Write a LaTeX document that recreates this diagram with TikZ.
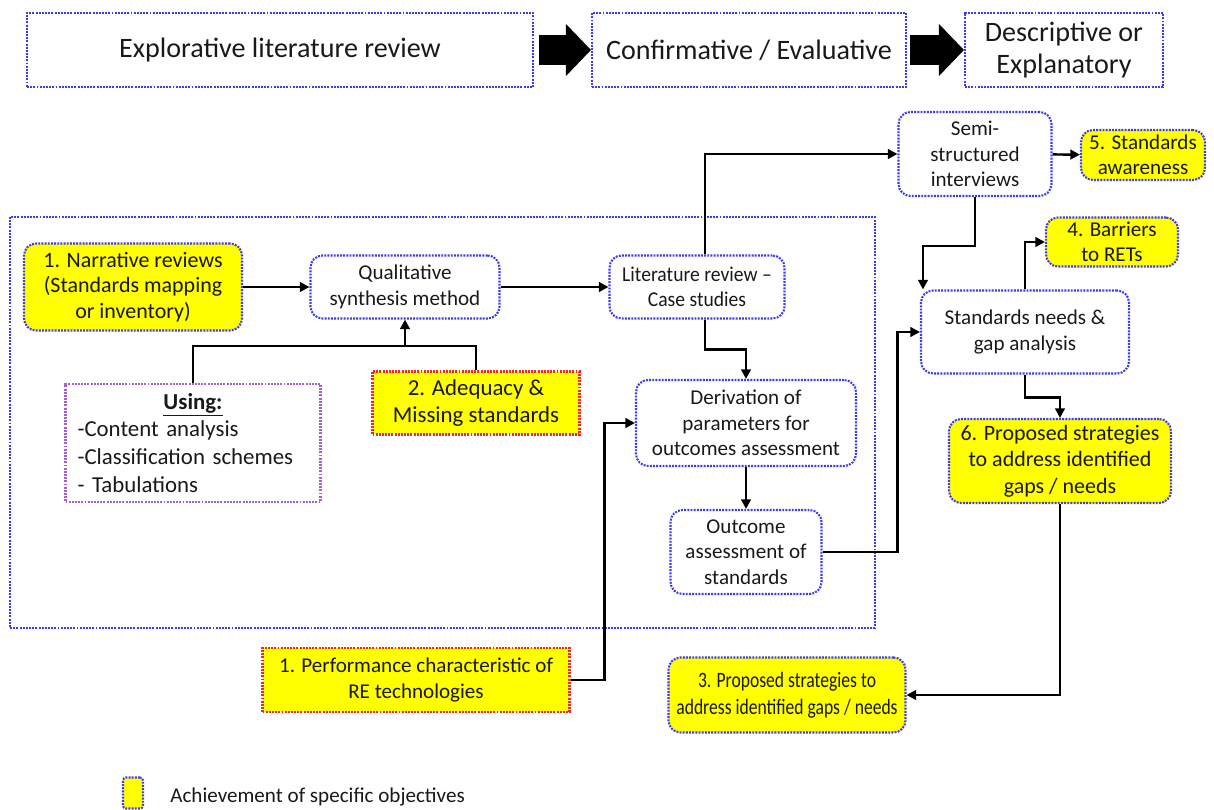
\documentclass[tikz,border=0pt]{standalone}
\usepackage{fontspec}
\setmainfont{Carlito}
\newfontfamily\narrowA{Carlito}[FakeStretch=0.8,Ligatures=TeX]
\newfontfamily\narrowB{Carlito}[FakeStretch=0.93,Ligatures=TeX]
\usepackage{tikz}
\usetikzlibrary{positioning}
\usetikzlibrary{arrows.meta}
\definecolor{dotblue}{RGB}{60,60,235}
\definecolor{dotred}{RGB}{235,40,40}
\definecolor{dotpurp}{RGB}{165,95,210}
\definecolor{ylw}{RGB}{255,255,0}
\definecolor{ink}{RGB}{25,25,25}

\begin{document}
\begin{tikzpicture}[x=0.02cm,y=-0.02cm,text=ink,
	font=\fontsize{12}{14.5}\selectfont,
	dotb/.style={draw=dotblue, line width=1.2pt, dash pattern=on 1.1pt off 0.7pt},
	topb/.style={dotb, minimum height=1.48cm, inner sep=0pt, align=center,
		font=\fontsize{16}{18.7}\selectfont},
	rnd/.style={dotb, rounded corners=0.24cm, align=center, inner sep=0pt},
	yrnd/.style={rnd, fill=ylw},
	yred/.style={draw=dotred, line width=1.2pt, dash pattern=on 1.1pt off 0.7pt,
		fill=ylw, align=center, inner sep=0pt},
	purp/.style={draw=dotpurp, line width=1.2pt, dash pattern=on 1.1pt off 0.7pt,
		align=left, inner xsep=0.24cm, inner ysep=0pt, text width=4.62cm},
	lnk/.style={line width=1.4pt, -{Triangle[length=5.5pt,width=5.5pt]}},
	lin/.style={line width=1.4pt},
	blk/.style={line width=0.6cm, -{Triangle[length=0.5cm,width=1.04cm,line width=0pt]}}]
	\useasboundingbox (0,0) rectangle (1214,810);
	% phases
	\node [topb, minimum width=10.12cm] (explore) at (280,50) {Explorative literature review};
	\node [topb, minimum width=6.28cm] (confirm) at (749,50) {Confirmative / Evaluative};
	\node [topb, minimum width=3.96cm] (descr) at (1064,50) {Descriptive or\\Explanatory};
	\draw [blk] ([xshift=0.1cm]explore.east) -- (confirm.west);
	\draw [blk] ([xshift=0.06cm]confirm.east) -- (descr.west);
	% literature part
	\draw [dotb] (10,217) rectangle (875,628);
	\node [yrnd, minimum width=4.36cm, minimum height=1.74cm,
		font=\fontsize{12.5}{14.5}\selectfont] (narr) at (133,287)
		{1. Narrative reviews\\(Standards mapping\\or inventory)};
	\node [rnd, minimum width=3.78cm, minimum height=1.26cm] (qual) at (405,287) {Qualitative\\synthesis method};
	\node [rnd, minimum width=3.5cm, minimum height=1.26cm,
		font=\narrowB\fontsize{12}{14.5}\selectfont] (lit) at (697,287) {Literature review –\\Case studies};
	\node [purp, minimum height=2.36cm, font=\fontsize{13}{15.9}\selectfont] (using) at (193,443)
		{\makebox[4.62cm][c]{\textbf{\underline{Using:}}}\\-Content analysis\\-Classification schemes\\- Tabulations};
	\node [yred, minimum width=4.14cm, minimum height=1.26cm,
		font=\fontsize{13}{15}\selectfont] (adeq) at (476,403) {2. Adequacy \&\\Missing standards};
	\node [rnd, minimum width=4.4cm, minimum height=1.72cm] (deriv) at (746,423) {Derivation of\\parameters for\\outcomes assessment};
	\node [rnd, minimum width=3.02cm, minimum height=1.68cm] (outc) at (746,552) {Outcome\\assessment of\\standards};
	% interviews and results
	\node [rnd, minimum width=3.06cm, minimum height=1.68cm] (semi) at (975,154) {Semi-\\structured\\interviews};
	\node [yrnd, minimum width=2.48cm, minimum height=1cm] (std5) at (1143,155) {5. Standards\\awareness};
	\node [yrnd, minimum width=2.64cm, minimum height=0.98cm] (bar4) at (1112,242) {4. Barriers\\to RETs};
	\node [rnd, minimum width=4.16cm, minimum height=1.66cm] (gap) at (1025,332) {Standards needs \&\\gap analysis};
	\node [yrnd, minimum width=4.44cm, minimum height=1.68cm,
		font=\fontsize{12.5}{15}\selectfont] (prop6) at (1060,461) {6. Proposed strategies\\to address identified\\gaps / needs};
	\node [yred, minimum width=6.14cm, minimum height=1.28cm] (perf) at (416,680) {1. Performance characteristic of\\RE technologies};
	\node [yrnd, minimum width=4.74cm, minimum height=1.5cm,
		font=\narrowA\fontsize{12.5}{15.3}\selectfont] (prop3) at (787,695) {3. Proposed strategies to\\address identified gaps / needs};
	\coordinate (jn) at (405,346);
	% links
	\draw [lnk] (narr) -- (qual);
	\draw [lnk] (qual) -- (lit);
	\draw [lin] (using.north) |- (jn) -| (adeq.north);
	\draw [lnk] (jn) -- (qual.south);
	\draw [lnk] ([xshift=0.16cm]lit.north) |- (semi);
	\draw [lnk] (semi) -- (std5);
	\draw [lnk] (semi.south) -- ++(0,49) -| ([xshift=0.06cm]gap.north west);
	\draw [lnk] (gap.north) |- (bar4);
	\draw [lnk] ([xshift=0.16cm]lit.south) -- ++(0,30) -| (deriv.north);
	\draw [lnk] (deriv) -- (outc);
	\draw [lnk] (outc.east) -- ++(75,0) |- (gap);
	\draw [lnk] (perf.east) -- ++(34,0) |- (deriv);
	\draw [lnk] (gap.south) -- ++(0,23) -| (prop6.north);
	\draw [lnk] (prop6.south) |- (prop3.east);
	% legend
	\node [yrnd, rounded corners=0.06cm, minimum width=0.4cm, minimum height=0.62cm] (leg) at (133,793) {};
	\node [anchor=west, inner sep=0pt, font=\fontsize{12}{14}\selectfont] (legtxt) at (170,797) {Achievement of specific objectives};
\end{tikzpicture}
\end{document}
